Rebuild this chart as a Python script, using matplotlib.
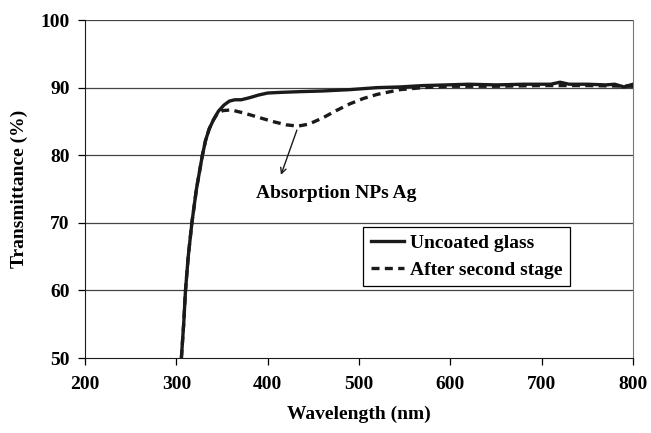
import matplotlib
matplotlib.use("Agg")
import matplotlib.pyplot as plt

plt.rcParams['font.family'] = ['Liberation Serif', 'DejaVu Serif']
plt.rcParams['font.weight'] = 'bold'

# Uncoated glass spectrum
wl_uncoated = [305.5, 308, 310, 313, 317, 322, 328.5, 332, 336, 340.5, 346, 352, 358, 364, 371, 380,
               390, 400, 415, 435, 460, 490, 520, 545, 570, 596, 620, 650, 680, 700, 710, 720,
               730, 750, 770, 780, 790, 800]
t_uncoated = [50, 55, 60, 65, 70, 75, 80, 82.2, 83.9, 85.2, 86.5, 87.4, 88.0, 88.2, 88.2, 88.5,
              88.9, 89.2, 89.3, 89.4, 89.5, 89.7, 90.0, 90.1, 90.3, 90.4, 90.5, 90.4, 90.5, 90.5, 90.5, 90.8,
              90.5, 90.5, 90.4, 90.5, 90.1, 90.5]

# After second stage spectrum
wl_second = [305.5, 308, 310, 313, 317, 322, 328.5, 332, 336, 340.5, 345, 351, 360, 375, 390,
             405, 420, 433, 445, 460, 475, 490, 505, 520, 545, 570, 600, 650, 700, 750, 800]
t_second = [50, 55, 60, 65, 70, 75, 80, 82.2, 83.9, 85.2, 86.2, 86.6, 86.7, 86.2, 85.6,
            85.0, 84.5, 84.3, 84.6, 85.5, 86.6, 87.6, 88.4, 89.0, 89.7, 90.0, 90.2, 90.2, 90.3, 90.3, 90.2]

fig = plt.figure(figsize=(6.51, 4.33), dpi=100)
ax = fig.add_axes([0.1306, 0.1732, 0.8418, 0.7806])

ax.set_xlim(200, 800)
ax.set_ylim(50, 100)
ax.set_xticks([200, 300, 400, 500, 600, 700, 800])
ax.set_yticks([50, 60, 70, 80, 90, 100])

for y in [60, 70, 80, 90, 100]:
    ax.axhline(y, color='#444444', lw=0.9, zorder=1)

ax.plot(wl_uncoated, t_uncoated, color='#1a1a1a', lw=2.4, label='Uncoated glass', zorder=3)
ax.plot(wl_second, t_second, color='#1a1a1a', lw=2.4, ls=(0, (2.4, 1.6)), label='After second stage', zorder=4)

ax.annotate('', xy=(413.5, 76.7), xytext=(433, 84.1),
            arrowprops=dict(arrowstyle='->', color='#1a1a1a', lw=1.0))
ax.text(475, 74.4, 'Absorption NPs Ag', ha='center', va='center', fontsize=14, fontweight='bold')

ax.spines['top'].set_visible(False)
ax.spines['right'].set_color('#777777')
ax.spines['left'].set_color('#1a1a1a')
ax.spines['bottom'].set_color('#1a1a1a')

ax.tick_params(direction='out', length=5, width=0.9, labelsize=14, pad=6)
ax.tick_params(axis='x', pad=8)

ax.set_xlabel('Wavelength (nm)', fontsize=14, fontweight='bold', labelpad=9)
ax.set_ylabel('Transmittance (%)', fontsize=14, fontweight='bold', labelpad=9)

leg = ax.legend(loc='upper left', bbox_to_anchor=(0.507, 0.388), fontsize=14, frameon=True,
                fancybox=False, edgecolor='black', framealpha=1, handlelength=1.7,
                handletextpad=0.3, borderpad=0.4, labelspacing=0.45, borderaxespad=0)
leg.get_frame().set_linewidth(0.9)

fig.savefig('out.png', dpi=100)
